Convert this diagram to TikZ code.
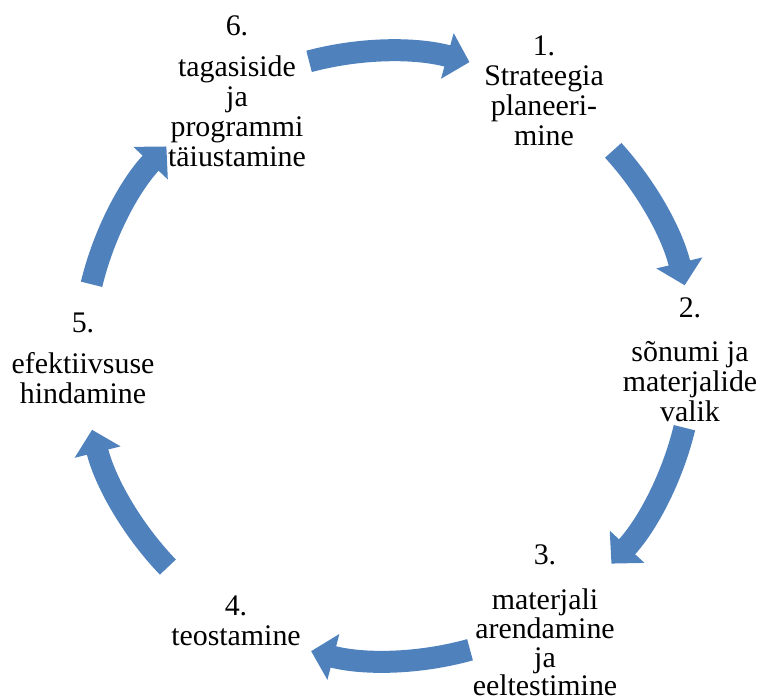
\documentclass[tikz,border=0pt]{standalone}
\usepackage{fontspec}
\setmainfont{Liberation Serif}
\newfontfamily\stepfont{Liberation Serif}
\usetikzlibrary{arrows.meta,calc}
\definecolor{accent}{RGB}{79,129,189}
\tikzset{
  steptext/.style={align=center, inner sep=0pt, anchor=north, font=\stepfont\fontsize{30}{30}\selectfont},
  tightstep/.style={steptext, font=\stepfont\fontsize{30}{28.8}\selectfont},
  cyclearrow/.style={draw=accent, line width=22bp, line cap=butt, -{Triangle[width=46bp,length=23bp]}}
}
\begin{document}
\begin{tikzpicture}[x=1bp,y=1bp]
\useasboundingbox (0,0) rectangle (765,699);
\coordinate (c) at (388,343);
\node[steptext] (s1) at (544,663) {1.\\Strateegia\\planeeri-\\mine};
\node[steptext] (s2) at (690,401) {2.\\[14bp]sõnumi ja\\materjalide\\valik};
\node[tightstep] (s3) at (545,154) {3.\\[16bp]materjali\\arendamine\\ja\\eeltestimine};
\node[steptext] (s4) at (236,103) {4.\\teostamine};
\node[steptext] (s5) at (83,386) {5.\\[11bp]efektiivsuse\\hindamine};
\node[steptext] (s6) at (237,683) {6.\\[11bp]tagasiside\\ja\\programmi\\täiustamine};
\coordinate (a61) at ($(c)+(105:305bp)$);
\coordinate (a12) at ($(c)+(42.4:305bp)$);
\coordinate (a23) at ($(c)+(-13.6:305bp)$);
\coordinate (a34) at ($(c)+(-74.4:305bp)$);
\coordinate (a45) at ($(c)+(-136.2:305bp)$);
\coordinate (a56) at ($(c)+(166.4:305bp)$);
\draw[cyclearrow] (a61) arc[start angle=105, end angle=74.5, radius=305bp];
\draw[cyclearrow] (a12) arc[start angle=42.4, end angle=13.4, radius=305bp];
\draw[cyclearrow] (a23) arc[start angle=-13.6, end angle=-42.9, radius=305bp];
\draw[cyclearrow] (a34) arc[start angle=-74.4, end angle=-104.6, radius=305bp];
\draw[cyclearrow] (a45) arc[start angle=-136.2, end angle=-166, radius=305bp];
\draw[cyclearrow] (a56) arc[start angle=166.4, end angle=136.6, radius=305bp];
\end{tikzpicture}
\end{document}
